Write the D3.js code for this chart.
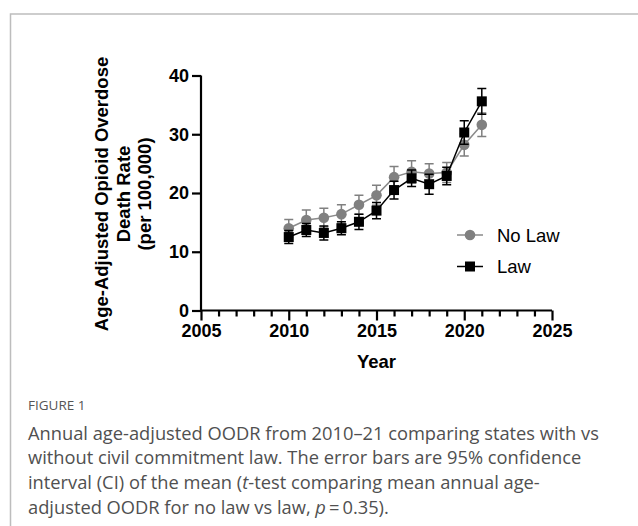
<!DOCTYPE html>
<html>
<head>
<meta charset="utf-8">
<script src="https://cdn.jsdelivr.net/npm/d3@7"></script>
<style>
  body { margin: 0; background: #fff; }
  svg { display: block; }
</style>
</head>
<body>
<svg></svg>
<script>
const width = 638;
const height = 526;

// data
const years = [2010, 2011, 2012, 2013, 2014, 2015, 2016, 2017, 2018, 2019, 2020, 2021];
const noLaw = [14.0, 15.4, 15.8, 16.4, 18.0, 19.6, 22.7, 23.6, 23.3, 23.5, 28.2, 31.6];
const noLawCI = [1.5, 1.7, 1.6, 1.6, 1.6, 1.7, 1.8, 1.9, 1.7, 1.7, 1.9, 2.0];
const law = [12.5, 13.7, 13.2, 14.0, 15.1, 17.0, 20.5, 22.5, 21.5, 22.9, 30.3, 35.6];
const lawCI = [1.1, 1.1, 1.2, 1.1, 1.3, 1.4, 1.5, 1.4, 1.7, 1.5, 2.0, 2.2];
const xTicks = [2005, 2010, 2015, 2020, 2025];
const yTicks = [0, 10, 20, 30, 40];
const yTitle = ["Age-Adjusted Opioid Overdose", "Death Rate", "(per 100,000)"];
// caption lines, split into [text, italic] pieces
const caption = [
    [["Annual age-adjusted OODR from 2010\u201321 comparing states with vs", false]],
    [["without civil commitment law. The error bars are 95% confidence", false]],
    [["interval (CI) of the mean (", false], ["t", true], ["-test comparing mean annual age-", false]],
    [["adjusted OODR for no law vs law, ", false], ["p", true], ["\u2009=\u20090.35).", false]]
];

const svg = d3.select("svg")
    .attr("width", width)
    .attr("height", height);

// outer frame (runs off right and bottom)
svg.append('rect')
    .attr('x', 10.5)
    .attr('y', 14)
    .attr('width', 700)
    .attr('height', 600)
    .attr('fill', 'none')
    .attr('stroke', '#bdbdbd')
    .attr('stroke-width', 1.5);

const xScale = d3.scaleLinear().domain([2005, 2025]).range([201, 552]);
const yScale = d3.scaleLinear().domain([0, 40]).range([310.5, 75.5]);

const font = 'Liberation Sans, Arial, sans-serif';

// x axis: minor ticks each year, labels every 5
const xAxis = d3.axisBottom(xScale)
    .tickValues(d3.range(2005, 2026))
    .tickSize(6)
    .tickFormat(d => xTicks.includes(d) ? d : '');

const gx = svg.append('g')
    .attr('transform', `translate(0, ${yScale(0)})`)
    .call(xAxis);
gx.selectAll('line')
    .attr('y2', d => xTicks.includes(d) ? 10 : 6);
gx.select('.domain').attr('d', `M${xScale(2005)},0H${xScale(2025)}`);

const yAxis = d3.axisLeft(yScale)
    .tickValues(yTicks)
    .tickSize(9)
    .tickPadding(3);

const gy = svg.append('g')
    .attr('transform', `translate(${xScale(2005)}, 0)`)
    .call(yAxis);
gy.select('.domain').attr('d', `M0,${yScale(0)}V${yScale(40)}`);

svg.selectAll('.domain, .tick line')
    .attr('stroke', '#000')
    .attr('stroke-width', 2.2);
svg.selectAll('.tick text')
    .attr('font-family', font)
    .attr('font-weight', 'bold')
    .attr('font-size', 18)
    .attr('fill', '#000');
gx.selectAll('.tick text').attr('dy', '0.95em');

svg.append('text')
    .attr('x', 376.5)
    .attr('y', 368)
    .attr('text-anchor', 'middle')
    .attr('font-family', font)
    .attr('font-weight', 'bold')
    .attr('font-size', 18.5)
    .text('Year');

const yt = svg.append('text')
    .attr('transform', 'translate(108, 194) rotate(-90)')
    .attr('text-anchor', 'middle')
    .attr('font-family', font)
    .attr('font-weight', 'bold')
    .attr('font-size', 18.5);
yt.selectAll('tspan')
    .data(yTitle)
    .enter()
    .append('tspan')
    .attr('x', 0)
    .attr('dy', (d, i) => i === 0 ? 0 : 21.7)
    .text(d => d);

// series
const series = [
    { name: 'No Law', values: noLaw, ci: noLawCI, color: '#808080', lineColor: '#8a8a8a', shape: 'circle' },
    { name: 'Law', values: law, ci: lawCI, color: '#000', lineColor: '#000', shape: 'square' }
];

const line = d3.line()
    .x((d, i) => xScale(years[i]))
    .y(d => yScale(d));

function drawMarker(g, shape, color) {
    if (shape === 'circle') {
        g.append('circle').attr('r', 5.3).attr('fill', color);
    } else {
        g.append('rect').attr('x', -5).attr('y', -5).attr('width', 10).attr('height', 10).attr('fill', color);
    }
}

series.forEach(s => {
    const g = svg.append('g');
    g.append('path')
        .datum(s.values)
        .attr('d', line)
        .attr('fill', 'none')
        .attr('stroke', s.lineColor)
        .attr('stroke-width', 1.5);

    const eb = g.selectAll('.eb')
        .data(s.values)
        .enter()
        .append('g')
        .attr('transform', (d, i) => `translate(${xScale(years[i])},0)`);
    eb.append('path')
        .attr('d', (d, i) => {
            const lo = yScale(d - s.ci[i]);
            const hi = yScale(d + s.ci[i]);
            return `M0,${lo}V${hi}M-4.5,${lo}H4.5M-4.5,${hi}H4.5`;
        })
        .attr('fill', 'none')
        .attr('stroke', s.color)
        .attr('stroke-width', 1.5);

    g.selectAll('.mk')
        .data(s.values)
        .enter()
        .append('g')
        .attr('transform', (d, i) => `translate(${xScale(years[i])},${yScale(d)})`)
        .each(function () { drawMarker(d3.select(this), s.shape, s.color); });
});

// legend
const legend = svg.append('g').attr('transform', 'translate(457, 235)');
series.forEach((s, i) => {
    const row = legend.append('g').attr('transform', `translate(0, ${i * 31.5})`);
    row.append('line')
        .attr('x1', 0).attr('x2', 26)
        .attr('stroke', s.lineColor)
        .attr('stroke-width', 1.5);
    const m = row.append('g').attr('transform', 'translate(13,0)');
    drawMarker(m, s.shape, s.color);
    row.append('text')
        .attr('x', 40)
        .attr('y', 6.5)
        .attr('font-family', font)
        .attr('font-size', 18.5)
        .text(s.name);
});

// caption
const capFont = 'Open Sans, sans-serif';
svg.append('text')
    .attr('x', 28)
    .attr('y', 409.5)
    .attr('font-family', capFont)
    .attr('font-size', 13.5)
    .attr('fill', '#555')
    .text('FIGURE 1');

const capLines = svg.append('g')
    .attr('font-family', capFont)
    .attr('font-size', 18.3)
    .attr('fill', '#505050');
caption.forEach((parts, i) => {
    const t = capLines.append('text')
        .attr('x', 28)
        .attr('y', 439.5 + i * 24.8);
    t.selectAll('tspan')
        .data(parts)
        .enter()
        .append('tspan')
        .attr('font-style', d => d[1] ? 'italic' : 'normal')
        .text(d => d[0]);
});
</script>
</body>
</html>
